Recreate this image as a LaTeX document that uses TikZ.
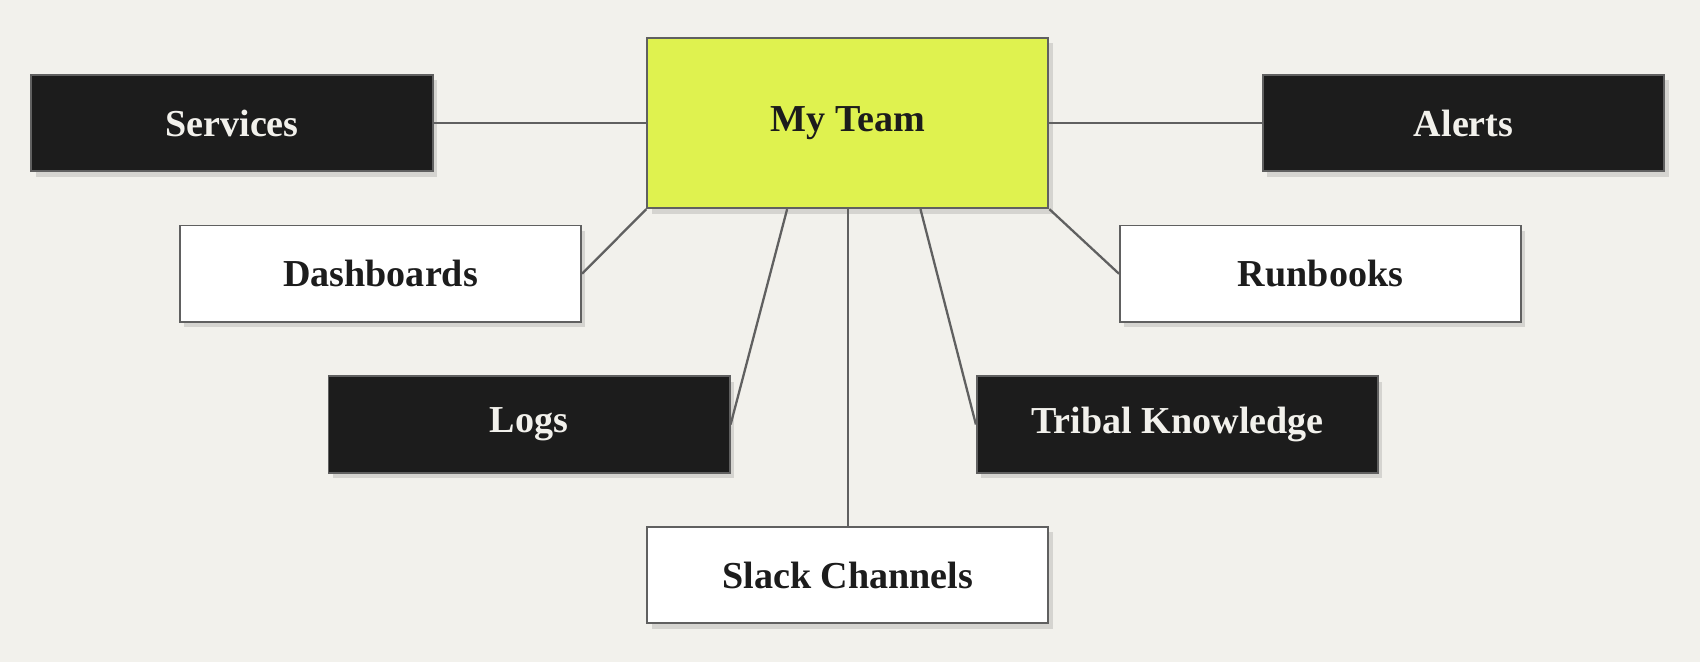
\documentclass[tikz,border=0pt]{standalone}
\usepackage{fontspec}
\setmainfont{Liberation Serif}
\usetikzlibrary{shadows}
\definecolor{paper}{HTML}{F2F1EC}
\definecolor{lime}{HTML}{DFF24F}
\definecolor{ink}{HTML}{1C1C1C}
\tikzset{
  box/.style={draw=ink!70, line width=.5pt, minimum width=3.7cm, minimum height=.89cm,
    font=\fontsize{10}{12}\selectfont\bfseries, drop shadow={opacity=.25, shadow xshift=.4mm, shadow yshift=-.5mm}},
  dark/.style={box, fill=ink, text=paper},
  light/.style={box, fill=white, text=ink},
  link/.style={draw=ink!70, line width=.6pt}
}
\begin{document}
\begin{tikzpicture}
\fill[paper] (0,0) rectangle (15.68,-6.11);
\useasboundingbox (0,0) rectangle (15.68,-6.11);

\node[box, fill=lime, text=ink, minimum height=1.57cm] (team) at (7.82,-1.135) {My Team};

\node[dark]  (services) at (2.14,-1.135)  {Services};
\node[dark]  (alerts)   at (13.50,-1.135) {Alerts};
\node[light] (dash)     at (3.51,-2.525)  {Dashboards};
\node[light] (runbooks) at (12.18,-2.525) {Runbooks};
\node[dark]  (logs)     at (4.88,-3.915)  {Logs};
\node[dark]  (tribal)   at (10.86,-3.915) {Tribal Knowledge};
\node[light] (slack)    at (7.82,-5.305)  {Slack Channels};

\draw[link] (services.east) -- (team.west |- services.east);
\draw[link] (alerts.west)   -- (team.east |- alerts.west);
\draw[link] (dash.east)     -- (team.south west);
\draw[link] (runbooks.west) -- (team.south east);
\draw[link] (logs.east)     -- ([xshift=-.56cm]team.south);
\draw[link] (tribal.west)   -- ([xshift=.67cm]team.south);
\draw[link] (slack.north)   -- (team.south);
\end{tikzpicture}
\end{document}
